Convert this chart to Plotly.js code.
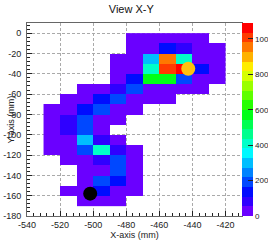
<!DOCTYPE html>
<html>
<head>
<meta charset="utf-8">
<script src="https://cdn.plot.ly/plotly-3.0.1.min.js"></script>
<style>
html,body{margin:0;padding:0;background:#fff;overflow:hidden;}
#chart{width:268px;height:240px;}
</style>
</head>
<body>
<div id="chart"></div>
<script>
// Bin centres (mm)
const xCenters = [-525, -515, -505, -495, -485, -475, -465, -455, -445, -435, -425];
const yCenters = [-5, -15, -25, -35, -45, -55, -65, -75, -85, -95, -105, -115, -125, -135, -145, -155, -165];
const n = null;
// Bin contents, one row per y bin (top to bottom)
const counts = [
  [n, n, n, n, n, 30, 25, 35, 28, 20, n],
  [n, n, n, n, n, 22, 30, 135, 85, 25, 18],
  [n, n, n, n, 20, 35, 300, 960, 410, 30, 22],
  [n, n, n, n, 25, 40, 415, 1010, 1090, 140, 28],
  [n, n, n, n, 30, 135, 570, 575, 195, 35, 25],
  [n, n, 20, 30, 85, 190, 40, 30, 25, 20, n],
  [n, 18, 35, 135, 195, 30, 25, 15, n, n, n],
  [20, 40, 130, 190, 35, 25, n, n, n, n, n],
  [25, 85, 195, 40, 30, n, n, n, n, n, n],
  [30, 90, 200, 35, n, n, n, n, n, n, n],
  [25, 40, 300, 80, 30, n, n, n, n, n, n],
  [30, 45, 190, 415, 85, 25, n, n, n, n, n],
  [n, 30, 40, 85, 190, 30, n, n, n, n, n],
  [n, n, 35, 45, 195, 30, n, n, n, n, n],
  [n, n, 40, 190, 135, 25, n, n, n, n, n],
  [n, 20, 35, 140, 35, 25, n, n, n, n, n],
  [n, n, 25, 30, 20, n, n, n, n, n, n]
];
// Marker points
const markerX = [-442.5, -501.8];
const markerY = [-35, -158];
const markerColors = ['#ffc20e', '#000000'];
const zTicks = [0, 200, 400, 600, 800, 1000];
const xTicks = [-540, -520, -500, -480, -460, -440, -420];
const yTicks = [0, -20, -40, -60, -80, -100, -120, -140, -160, -180];

// ROOT-like stepped rainbow palette (20 contour bands)
function hslHex(h) {
  const f = (nn) => { const k = (nn + h / 30) % 12;
    const v = 0.5 - 0.5 * Math.max(-1, Math.min(k - 3, 9 - k, 1)); return Math.round(v * 255); };
  return 'rgb(' + [f(0), f(8), f(4)].join(',') + ')';
}
const nb = 20;
const cs = [];
for (let k = 0; k < nb; k++) {
  const hue = 265 - k * (265 / (nb - 1));
  const col = hslHex(hue);
  cs.push([k / nb, col]);
  cs.push([(k + 1) / nb, col]);
}

const font = 'Liberation Sans, Arial, sans-serif';
const heat = {
  type: 'heatmap',
  x: xCenters, y: yCenters, z: counts,
  zmin: 0, zmax: 1090,
  colorscale: cs,
  hoverongaps: false,
  colorbar: {
    x: 1, xanchor: 'left', xpad: 0, xref: 'paper',
    y: 0.5, yanchor: 'middle', ypad: 0, len: 1,
    thickness: 11, outlinewidth: 0,
    tickmode: 'array', tickvals: zTicks, ticktext: zTicks.map(String),
    ticks: 'inside', ticklen: 5, tickcolor: '#222', tickwidth: 1,
    tickfont: {family: font, size: 8, color: '#222'}
  }
};
const marks = {
  type: 'scatter', mode: 'markers',
  x: markerX, y: markerY,
  marker: {size: 14, color: markerColors, line: {width: 0}},
  showlegend: false, hoverinfo: 'skip'
};
const axisCommon = {
  showline: true, mirror: true, linecolor: '#666', linewidth: 1,
  ticks: 'inside', ticklen: 5, tickcolor: '#222', tickwidth: 1,
  showgrid: true, gridcolor: '#aaa', griddash: '3px,2px', gridwidth: 1,
  zeroline: false,
  tickfont: {family: font, size: 9, color: '#222'},
  tickmode: 'array'
};
const layout = {
  width: 268, height: 240,
  margin: {l: 26.7, r: 26.3, t: 23.3, b: 24, pad: 0, autoexpand: false},
  paper_bgcolor: '#fff', plot_bgcolor: '#fff',
  title: {text: 'View X-Y', font: {family: font, size: 11, color: '#111'}, x: 0.49, xanchor: 'center', y: 0.962, yanchor: 'middle', yref: 'container'},
  xaxis: Object.assign({}, axisCommon, {
    range: [-540, -410], tickvals: xTicks, ticktext: xTicks.map(String),
    ticklabelstandoff: 0,
    minor: {dtick: 4, tick0: -540, ticks: 'inside', ticklen: 3, tickcolor: '#222', showgrid: false},
    title: {text: 'X-axis (mm)', font: {family: font, size: 9, color: '#222'}, standoff: 2}
  }),
  yaxis: Object.assign({}, axisCommon, {
    range: [-180, 10], tickvals: yTicks, ticktext: yTicks.map(String),
    ticklabelstandoff: 3,
    minor: {dtick: 4, tick0: 0, ticks: 'inside', ticklen: 3, tickcolor: '#222', showgrid: false}
  }),
  annotations: [{
    text: 'Y-axis (mm)', textangle: -90, xref: 'paper', yref: 'paper',
    x: -0.075, y: 0.5, xanchor: 'center', yanchor: 'middle', showarrow: false,
    font: {family: font, size: 9, color: '#222'}
  }],
  showlegend: false
};
Plotly.newPlot('chart', [heat, marks], layout, {staticPlot: true, displayModeBar: false});
</script>
</body>
</html>
